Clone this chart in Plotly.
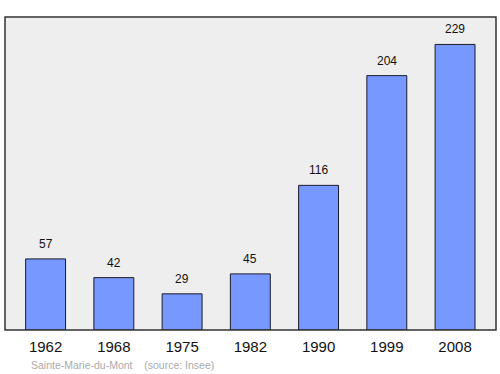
import plotly.graph_objects as go

years = ["1962", "1968", "1975", "1982", "1990", "1999", "2008"]
population = [57, 42, 29, 45, 116, 204, 229]
source_text = "Sainte-Marie-du-Mont    (source: Insee)"

xs = list(range(len(years)))

fig = go.Figure()
fig.add_trace(go.Bar(
    x=xs, y=population, width=0.585,
    marker=dict(color="#7799ff", line=dict(color="#1a1a2a", width=1)),
    hoverinfo="skip",
))

for x, v in zip(xs, population):
    fig.add_annotation(x=x, y=v, text=str(v), showarrow=False, yanchor="bottom",
                       yshift=6, font=dict(family="Liberation Sans, Arial", size=12, color="#111"))

fig.add_annotation(xref="paper", yref="paper", x=0.049, y=-0.085, xanchor="left", yanchor="top",
                   text=source_text.replace(" ", "&nbsp;"), showarrow=False,
                   font=dict(family="Liberation Sans, Arial", size=10.5, color="#aaaaaa"))

fig.add_shape(type="rect", xref="paper", yref="paper", x0=0, y0=0, x1=1, y1=1,
              line=dict(color="#333333", width=1.5), layer="above")

fig.update_layout(
    width=500, height=374,
    margin=dict(l=5, r=4, t=17, b=44),
    paper_bgcolor="white", plot_bgcolor="#eeeeee",
    showlegend=False,
    xaxis=dict(range=[-0.595, 6.6], tickvals=xs, ticktext=years, showgrid=False,
               zeroline=False, ticks="", ticklabelstandoff=6,
               tickfont=dict(family="Liberation Sans, Arial", size=15, color="#111")),
    yaxis=dict(range=[0, 251], showgrid=False, zeroline=False, showticklabels=False, ticks=""),
)
fig.write_html("out.html")
